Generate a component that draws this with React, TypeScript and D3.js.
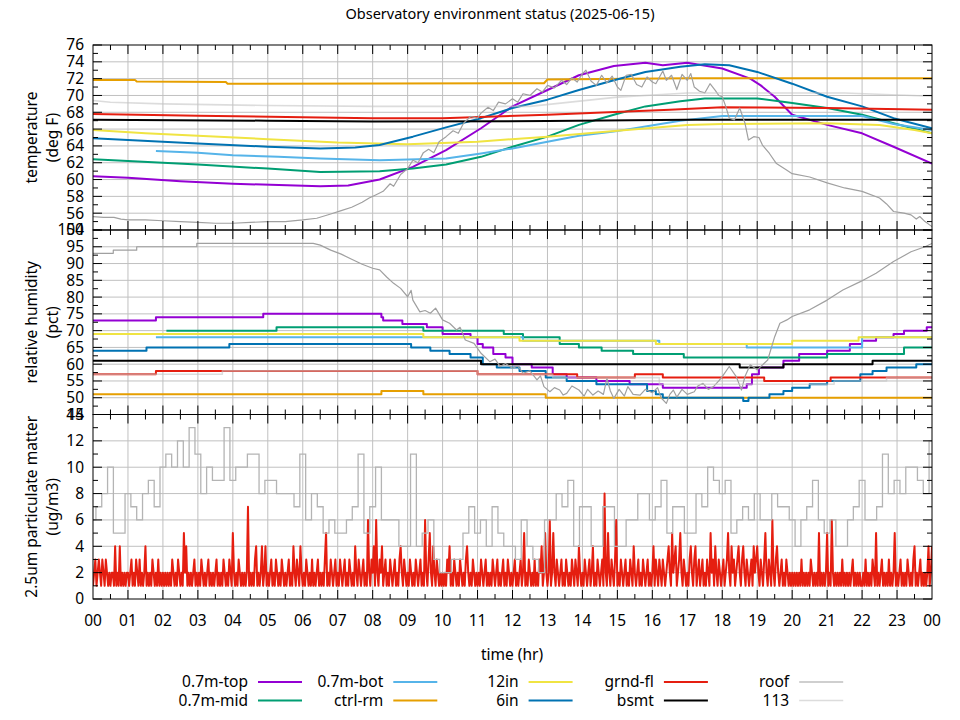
import { useEffect, useRef } from "react";
import * as d3 from "d3";

type Pt = [number, number];

const hourLabels = [
  "00", "01", "02", "03", "04", "05", "06", "07", "08", "09", "10", "11", "12",
  "13", "14", "15", "16", "17", "18", "19", "20", "21", "22", "23", "00",
];
const tempTicks = [54, 56, 58, 60, 62, 64, 66, 68, 70, 72, 74, 76];
const rhTicks = [45, 50, 55, 60, 65, 70, 75, 80, 85, 90, 95, 100];
const pmTicks = [0, 2, 4, 6, 8, 10, 12, 14];

// temperature, deg F  [hour, value]
const tempTop: Pt[] = [[0,60.4],[1,60.2],[2.5,59.8],[4,59.5],[6.5,59.2],[7.3,59.3],[8.2,60.0],[9.15,61.5],[10.1,63.5],[11.1,66.1],[12,68.7],[13,70.65],[13.9,72.4],[14.9,73.5],[15.8,73.9],[16.3,73.6],[17,73.9],[18,73.2],[18.8,72.0],[19.1,71.2],[19.5,69.85],[20,67.7],[21,66.5],[22,65.5],[22.9,63.9],[24,61.9]];
const tempMid: Pt[] = [[0,62.4],[1,62.2],[3,61.8],[5,61.3],[6.5,60.9],[8.2,61.0],[9.15,61.3],[10.1,61.8],[11.1,62.7],[12,63.9],[13,65.1],[13.9,66.5],[14.9,67.7],[15.8,68.7],[16.8,69.3],[17.5,69.65],[19,69.65],[20,69.1],[21,68.5],[22,67.7],[22.9,66.7],[24,65.5]];
const tempBot: Pt[] = [[1.8,63.4],[3,63.2],[4,62.9],[5.3,62.7],[6.5,62.5],[8.2,62.3],[10.1,62.5],[11.1,63.1],[12,63.7],[13,64.5],[13.9,65.2],[14.9,65.7],[15.8,66.3],[16.8,67.0],[18,67.55],[22,67.55],[22.9,66.6],[24,65.9]];
const tempCtrl: Pt[] = [[0,71.85],[1.2,71.85],[1.25,71.65],[3.8,71.6],[3.85,71.4],[12.9,71.45],[13.0,71.9],[17,72.05],[24,72.05]];
const temp12in: Pt[] = [[0,65.9],[1.5,65.5],[3,65.2],[5,64.8],[7,64.4],[9,64.2],[11,64.5],[13,65.1],[15,65.8],[17,66.5],[18,66.6],[21,66.7],[22.5,66.5],[23.5,65.9],[24,65.5]];
const temp6in: Pt[] = [[0,64.9],[1,64.7],[3,64.3],[5,63.9],[6.5,63.7],[7.5,63.8],[8.2,64.1],[9.15,65.1],[10.1,66.2],[11.1,67.3],[12,68.5],[13,69.5],[13.9,70.65],[14.9,71.8],[15.8,72.8],[16.8,73.4],[17.5,73.7],[18.2,73.6],[19,72.8],[20,71.4],[21,69.85],[22,68.7],[22.9,67.3],[24,66.1]];
const tempGrnd: Pt[] = [[0,67.8],[3,67.6],[6,67.4],[8,67.3],[10,67.3],[13,67.7],[16.5,68.3],[18,68.6],[21,68.5],[24,68.3]];
const tempBsmt: Pt[] = [[0,67.1],[5,67.0],[8,66.9],[13,66.95],[17,67.1],[24,67.1]];
const tempRoof: Pt[] = [[0,55.6],[0.3,55.5],[0.6,55.5],[0.8,55.3],[1.0,55.2],[1.5,55.2],[2,55.1],[2.5,55.0],[3,54.9],[3.5,54.8],[4,54.8],[4.5,54.9],[5,55.0],[5.5,55.0],[6,55.2],[6.4,55.4],[6.8,55.9],[7.1,56.3],[7.4,56.7],[7.7,57.3],[7.9,57.8],[8.1,58.2],[8.3,58.6],[8.5,59.5],[8.6,59.2],[8.8,60.6],[9.0,61.3],[9.15,62.3],[9.3,62.0],[9.45,63.2],[9.6,63.6],[9.75,63.2],[9.9,64.5],[10.1,65.1],[10.3,65.8],[10.45,65.5],[10.6,66.7],[10.8,67.5],[11.0,67.3],[11.1,67.9],[11.3,68.6],[11.45,68.2],[11.6,69.2],[11.8,69.0],[12.0,69.6],[12.15,69.2],[12.3,70.2],[12.5,70.0],[12.7,70.8],[12.85,70.4],[13.0,71.2],[13.2,70.9],[13.4,71.8],[13.55,71.3],[13.7,72.1],[13.85,71.6],[14.0,72.6],[14.1,73.0],[14.25,71.7],[14.4,71.2],[14.55,72.4],[14.7,71.5],[14.85,72.3],[15.0,71.0],[15.1,70.6],[15.25,72.4],[15.4,72.5],[15.55,71.3],[15.7,71.0],[15.85,72.2],[16.0,71.6],[16.1,71.4],[16.3,72.9],[16.4,71.8],[16.55,72.4],[16.7,70.7],[16.85,72.5],[17.0,71.8],[17.1,72.6],[17.2,71.0],[17.35,70.5],[17.5,70.3],[17.65,71.4],[17.8,70.6],[17.9,70.0],[18.0,69.85],[18.1,68.7],[18.2,67.3],[18.35,67.1],[18.5,68.5],[18.65,66.7],[18.75,64.7],[18.9,65.1],[19.05,65.0],[19.15,64.1],[19.35,63.1],[19.55,61.9],[19.85,61.1],[20.0,60.7],[20.5,60.3],[21.0,59.6],[21.5,59.0],[22.0,58.6],[22.5,57.8],[22.7,57.1],[22.9,56.2],[23.2,56.0],[23.4,55.8],[23.55,55.3],[23.65,55.6],[23.8,55.0],[24,54.4]];
const temp113: Pt[] = [[0,69.4],[0.5,69.2],[2,69.0],[5,68.8],[8,68.7],[12.5,68.7],[15,69.8],[17,70.3],[21.5,70.3],[24,69.9]];

// relative humidity, pct  [hour it changes, new value]
const rhTop: Pt[] = [[0,73],[1.8,74],[4.87,75],[8.25,74],[8.3,73],[8.85,72],[9.55,71],[10,69],[10.8,68],[11,66],[11.15,65],[11.45,63],[11.8,62],[12,60],[12.55,59],[13.15,57],[13.55,56],[14.4,55],[15.35,54],[16.3,53],[18.7,54],[18.85,57],[19.05,59],[19.75,61],[20.2,63],[21,64],[21.65,66],[22,67],[22.4,68],[22.9,69],[23.2,70],[23.85,71]];
const rhMid: Pt[] = [[2.1,70],[5.25,71],[9.45,70],[11.75,69],[12.3,68],[13.35,66],[13.9,65],[14.55,64],[15.45,63],[16.9,62],[21,63],[23.2,65]];
const rhBot: Pt[] = [[1.8,68],[12.3,67],[16.2,66],[18.7,65],[22,68]];
const rhCtrl: Pt[] = [[0,51],[8.25,52],[9.45,51],[12.95,50]];
const rh12in: Pt[] = [[0,69],[9.45,68],[12.2,67],[16.1,66],[20,67],[21.9,68]];
const rh6in: Pt[] = [[0,64],[1.53,65],[3.9,66],[9.1,65],[9.65,64],[10.2,63],[10.8,62],[11.15,60],[11.55,59],[12.2,58],[12.95,56],[13.55,55],[14.4,54],[15.85,52],[16.1,51],[16.3,50],[18.6,49],[18.75,50],[19.35,51],[19.75,52],[20,53],[20.5,54],[21,55],[21.95,57],[22.3,58],[22.7,59],[23.55,60]];
const rhGrnd: Pt[] = [[0,57],[1.8,58],[11,57],[13.85,56],[15.5,57],[16.3,56],[19.2,55],[21.1,56]];
const rhBsmt: Pt[] = [[0,61],[11.1,60],[18.5,59],[19.75,60],[22.3,61]];
const rhRoof: Pt[] = [[0,93.05],[0.58,93.05],[0.58,94.0],[1.25,94.0],[1.25,95.0],[2.97,95.0],[2.97,96.0],[6.3,96.0],[6.5,95.5],[6.8,94.0],[7.1,92.8],[7.4,91.3],[7.7,89.8],[8.0,88.6],[8.2,88.1],[8.4,86.0],[8.6,84.1],[8.8,82.6],[9.0,80.1],[9.1,82.0],[9.15,79.1],[9.35,75.6],[9.5,76.0],[9.65,75.2],[9.8,76.7],[10.0,73.2],[10.2,72.2],[10.4,70.2],[10.5,71.0],[10.65,67.2],[10.9,66.2],[11.1,63.25],[11.35,60.75],[11.5,61.5],[11.65,59.3],[11.8,60.2],[12.0,58.8],[12.15,59.5],[12.3,57.3],[12.5,58.0],[12.7,55.3],[12.8,56.5],[12.9,53.3],[13.07,51.8],[13.2,53.0],[13.35,52.3],[13.45,50.8],[13.55,51.3],[13.7,53.5],[13.9,52.3],[14.05,50.5],[14.15,52.5],[14.3,50.8],[14.45,52.0],[14.6,51.0],[14.7,55.8],[14.8,52.0],[14.9,49.8],[15.05,52.5],[15.2,50.5],[15.3,53.3],[15.45,51.0],[15.65,50.8],[15.8,52.5],[16.0,51.5],[16.15,53.0],[16.25,50.0],[16.4,48.3],[16.5,51.0],[16.6,52.3],[16.7,50.2],[16.85,52.5],[17.0,51.0],[17.2,51.8],[17.3,53.5],[17.45,54.3],[17.6,52.5],[17.75,53.3],[17.9,55.0],[18.0,56.3],[18.2,59.3],[18.4,56.3],[18.55,52.3],[18.65,56.3],[18.8,59.8],[19.0,58.3],[19.3,61.25],[19.5,68.2],[19.65,72.2],[19.85,73.2],[20.0,74.2],[20.5,76.2],[21.0,79.1],[21.45,82.1],[21.95,84.6],[22.4,87.1],[22.9,90.6],[23.4,93.5],[23.8,95.0],[24,96.0]];
const rh113: Pt[] = [[0,57],[3.7,58],[11,57],[13.15,56],[16.2,54],[21.2,55],[22.7,56]];

// 2.5um particulate matter, ug/m3
// 113 sensor, 10-minute readings (first one covers 00:00-00:05)
const pm113: number[] = [
  6,
  7,8,10,5,5,8,7,6,8,9, 7,10,11,10,12,10,13,11,8,10, 9,9,13,9,10,10,11,11,8,9, 9,8,8,8,7,11,6,8,7,5, 6,5,5,6,7,11,5,7,10,
  6,6,6,4,4,11,4,5,6,3, 2,2,3,3,5,7,5,6,4,7, 5,4,4,3,6,4,3,2,6,6, 8,7,9,4,7,7,4,4,7,7, 4,4,6,6,8,8,6,7,
  9,5,7,7,5,5,8,7,10,9, 8,9,5,6,7,6,8,6,6,8, 7,7,6,4,6,7,9,6,5,6, 4,4,6,7,9,6,6,7,11,8, 9,8,10,10,9,8,12,
];
// grnd-fl sensor, 2-minute readings, one row per hour
const pmGrnd: number[] = [
  1,2,3,1,2,3,2,1,3,2, 1,3,2,1,2,1,2,2,1,4, 1,2,1,4,1,2,1,2,1,2,
  2,1,2,3,1,2,1,3,2,1, 3,1,2,1,2,4,1,2,1,2, 1,3,2,1,2,1,3,1,2,1,
  2,1,2,1,2,1,2,1,3,2, 1,2,1,3,2,1,2,1,5,2, 4,1,2,1,2,1,2,3,1,2,
  1,2,1,3,2,1,2,1,2,3, 1,2,1,2,1,2,3,1,2,1, 2,1,3,2,1,2,1,3,2,1,
  5,2,1,2,1,3,2,1,2,1, 2,1,2,7,1,2,1,2,1,3, 4,1,2,1,2,4,1,2,4,1,
  2,1,2,3,1,2,1,3,2,1, 2,1,3,2,1,2,1,2,3,1, 2,1,4,2,1,3,2,1,4,2,
  1,2,1,3,2,1,2,1,3,1, 2,1,2,3,1,2,1,2,1,3, 5,1,2,1,3,2,1,2,3,1,
  2,1,3,2,1,2,3,1,2,1, 3,2,1,2,1,4,2,1,3,2, 1,2,3,1,2,1,6,2,1,3,
  2,4,1,6,2,1,3,2,4,1, 2,3,1,2,1,3,2,1,2,3, 1,2,1,3,4,2,1,3,2,1,
  2,1,3,2,1,2,1,3,2,1, 2,3,1,2,1,6,2,1,3,5, 2,1,4,2,1,3,2,1,2,1,
  2,1,2,1,3,2,4,1,2,1, 3,2,1,2,1,3,2,1,2,1, 3,4,2,1,2,1,3,2,1,2,
  1,2,1,3,2,1,2,3,1,2, 1,2,1,3,2,1,2,3,1,2, 1,2,3,1,2,1,3,2,1,2,
  1,2,3,1,2,1,2,3,1,2, 5,1,2,1,3,2,1,2,1,3, 1,2,1,3,2,4,1,2,5,2,
  1,2,6,1,2,5,2,1,3,2, 1,2,3,1,2,1,3,2,1,2, 1,3,2,1,3,2,1,4,2,1,
  2,1,3,2,1,2,3,1,2,4, 1,2,1,3,2,1,2,3,1,8, 2,1,5,2,1,3,2,1,3,6,
  1,2,1,3,2,1,2,3,1,2, 1,3,2,1,4,2,1,2,3,1, 2,1,3,2,1,2,3,1,2,1,
  2,4,1,3,2,1,3,2,1,3, 2,1,2,3,4,2,1,5,2,3, 4,1,2,3,5,2,1,3,2,1,
  2,1,3,4,2,1,3,4,1,2, 3,1,2,3,1,2,1,3,2,1, 5,2,3,1,4,2,1,3,2,1,
  2,3,1,2,3,5,2,1,4,2, 3,1,2,3,4,2,1,3,4,2, 1,3,2,1,2,3,1,4,2,3,
  4,2,1,3,2,1,3,5,2,1, 3,2,1,6,2,1,3,4,2,1, 2,3,1,2,1,3,2,1,2,1,
  2,1,2,1,2,1,2,1,3,1, 2,1,2,1,2,1,3,2,1,2, 1,2,1,5,1,2,1,2,1,2,
  5,1,2,1,6,2,1,2,1,2, 1,2,1,3,1,2,1,2,1,2, 1,2,3,1,2,1,2,1,2,1,
  1,2,1,3,1,2,1,2,1,3, 2,1,5,1,2,1,2,3,1,2, 1,2,1,3,1,2,1,2,5,1,
  2,1,2,3,1,2,1,2,1,3, 2,1,2,1,3,4,1,2,1,2, 3,1,2,1,2,1,2,4,1,2,
  4,
];

const series = [
  { name: "0.7m-top", color: "#9400d3", width: 2, temp: tempTop, rh: rhTop },
  { name: "0.7m-mid", color: "#009e73", width: 2, temp: tempMid, rh: rhMid },
  { name: "0.7m-bot", color: "#56b4e9", width: 2, temp: tempBot, rh: rhBot },
  { name: "ctrl-rm", color: "#e69f00", width: 2, temp: tempCtrl, rh: rhCtrl },
  { name: "12in", color: "#f0e442", width: 2, temp: temp12in, rh: rh12in },
  { name: "6in", color: "#0072b2", width: 2, temp: temp6in, rh: rh6in },
  { name: "grnd-fl", color: "#e51e10", width: 2, temp: tempGrnd, rh: rhGrnd },
  { name: "bsmt", color: "#000000", width: 2, temp: tempBsmt, rh: rhBsmt },
  { name: "roof", color: "#a0a0a0", width: 1.2, temp: tempRoof, rh: rhRoof },
  { name: "113", color: "#c4c4c4", width: 1.6, opacity: 0.6, temp: temp113, rh: rh113 },
];

export default function App() {
  const svgRef = useRef<SVGSVGElement>(null);

  useEffect(() => {
    const svgEl = svgRef.current;
    if (!svgEl) return;
    const svg = d3.select(svgEl);
    svg.selectAll("*").remove();

    const left = 93;
    const right = 932;
    const x = d3.scaleLinear().domain([0, 24]).range([left, right]);

    const panels = [
      { key: "temp", top: 45, bottom: 230, domain: [54, 76], ticks: tempTicks, minor: 1, label: ["temperature", "(deg F)"] },
      { key: "rh", top: 230, bottom: 414.5, domain: [45, 100], ticks: rhTicks, minor: 2.5, label: ["relative humidity", "(pct)"] },
      { key: "pm", top: 414.5, bottom: 599, domain: [0, 14], ticks: pmTicks, minor: 1, label: ["2.5um particulate matter", "(ug/m3)"] },
    ];

    const defs = svg.append("defs");

    // title
    svg.append("text")
      .attr("x", 500).attr("y", 19)
      .attr("text-anchor", "middle")
      .attr("font-size", 14.5)
      .text("Observatory environment status (2025-06-15)");

    panels.forEach((p, pi) => {
      const y = d3.scaleLinear().domain(p.domain).range([p.bottom, p.top]);
      const g = svg.append("g");

      defs.append("clipPath").attr("id", `clip-${pi}`)
        .append("rect")
        .attr("x", left).attr("y", p.top)
        .attr("width", right - left).attr("height", p.bottom - p.top);

      // grid
      g.selectAll(".vgrid").data(d3.range(1, 24)).join("line")
        .attr("x1", (d) => x(d)).attr("x2", (d) => x(d))
        .attr("y1", p.top).attr("y2", p.bottom)
        .attr("stroke", "#c0c0c0").attr("stroke-width", 1);
      g.selectAll(".hgrid").data(p.ticks.slice(1, -1)).join("line")
        .attr("x1", left).attr("x2", right)
        .attr("y1", (d) => y(d)).attr("y2", (d) => y(d))
        .attr("stroke", "#c0c0c0").attr("stroke-width", 1);

      const plot = g.append("g").attr("clip-path", `url(#clip-${pi})`);
      const linear = d3.line<Pt>().x((d) => x(d[0])).y((d) => y(d[1]));
      const stepped = d3.line<Pt>().x((d) => x(d[0])).y((d) => y(d[1])).curve(d3.curveStepAfter);

      if (p.key === "temp" || p.key === "rh") {
        series.forEach((s) => {
          const data: Pt[] = p.key === "temp" ? s.temp : s.rh;
          let path: string | null;
          if (p.key === "rh" && s.name !== "roof") {
            path = stepped([...data, [24, data[data.length - 1][1]]]);
          } else {
            path = linear(data);
          }
          plot.append("path")
            .attr("d", path)
            .attr("fill", "none")
            .attr("stroke", s.color)
            .attr("stroke-width", s.width)
            .attr("stroke-opacity", s.opacity ?? 1)
            .attr("stroke-linejoin", "round");
        });
      } else {
        const redPts: Pt[] = pmGrnd.map((v, i) => [(i * 2) / 60, v]);
        plot.append("path")
          .attr("d", linear(redPts))
          .attr("fill", "none")
          .attr("stroke", "#e51e10")
          .attr("stroke-width", 2)
          .attr("stroke-linejoin", "round");

        const grayPts: Pt[] = pm113.map((v, i) => [i === 0 ? 0 : (i * 10 - 5) / 60, v]);
        grayPts.push([24, pm113[pm113.length - 1]]);
        plot.append("path")
          .attr("d", stepped(grayPts))
          .attr("fill", "none")
          .attr("stroke", "#b4b4b4")
          .attr("stroke-width", 1.3);
      }

      // frame
      g.append("rect")
        .attr("x", left).attr("y", p.top)
        .attr("width", right - left).attr("height", p.bottom - p.top)
        .attr("fill", "none").attr("stroke", "#000").attr("stroke-width", 1);

      // x ticks, inward on both edges
      const xt = d3.range(0, 24.001, 0.5).slice(1, -1);
      xt.forEach((t) => {
        const len = Number.isInteger(t) ? 9 : 5;
        g.append("line").attr("x1", x(t)).attr("x2", x(t))
          .attr("y1", p.top).attr("y2", p.top + len).attr("stroke", "#000");
        g.append("line").attr("x1", x(t)).attr("x2", x(t))
          .attr("y1", p.bottom).attr("y2", p.bottom - len).attr("stroke", "#000");
      });

      // y ticks, inward on both sides
      const [lo, hi] = p.domain;
      const yt = d3.range(lo, hi + 0.001, p.minor);
      yt.forEach((v) => {
        const len = p.ticks.includes(v) ? 9 : 5;
        g.append("line").attr("x1", left).attr("x2", left + len)
          .attr("y1", y(v)).attr("y2", y(v)).attr("stroke", "#000");
        g.append("line").attr("x1", right).attr("x2", right - len)
          .attr("y1", y(v)).attr("y2", y(v)).attr("stroke", "#000");
      });

      // y tick labels
      g.selectAll(".ylab").data(p.ticks).join("text")
        .attr("x", left - 9).attr("y", (d) => y(d))
        .attr("dy", "0.35em")
        .attr("text-anchor", "end")
        .attr("font-size", 15.5)
        .text((d) => String(d));

      // axis title, two lines
      const cy = (p.top + p.bottom) / 2;
      p.label.forEach((txt, li) => {
        const cx = li === 0 ? 32 : 53;
        g.append("text")
          .attr("transform", `translate(${cx},${cy}) rotate(-90)`)
          .attr("dy", "0.35em")
          .attr("text-anchor", "middle")
          .attr("font-size", 15.5)
          .text(txt);
      });

      if (p.key === "pm") {
        g.selectAll(".xlab").data(hourLabels).join("text")
          .attr("x", (_d, i) => x(i)).attr("y", p.bottom + 22)
          .attr("dy", "0.35em")
          .attr("text-anchor", "middle")
          .attr("font-size", 15.5)
          .text((d) => d);
      }
    });

    svg.append("text")
      .attr("x", 512).attr("y", 655).attr("dy", "0.35em")
      .attr("text-anchor", "middle")
      .attr("font-size", 15.5)
      .text("time (hr)");

    // legend: two rows, column-major
    const leg = svg.append("g");
    series.forEach((s, i) => {
      const col = Math.floor(i / 2);
      const row = i % 2;
      const tx = 248 + col * 135.3;
      const ty = 682 + row * 18.5;
      leg.append("text")
        .attr("x", tx).attr("y", ty).attr("dy", "0.35em")
        .attr("text-anchor", "end")
        .attr("font-size", 15.5)
        .text(s.name);
      leg.append("line")
        .attr("x1", tx + 10).attr("x2", tx + 54)
        .attr("y1", ty).attr("y2", ty)
        .attr("stroke", s.color)
        .attr("stroke-width", s.width)
        .attr("stroke-opacity", s.opacity ?? 1);
    });
  }, []);

  return (
    <svg
      ref={svgRef}
      width={960}
      height={720}
      fontFamily="'Noto Sans', 'Open Sans', 'DejaVu Sans', sans-serif"
      style={{ position: "absolute", left: 0, top: 0, display: "block", background: "#fff" }}
    />
  );
}
